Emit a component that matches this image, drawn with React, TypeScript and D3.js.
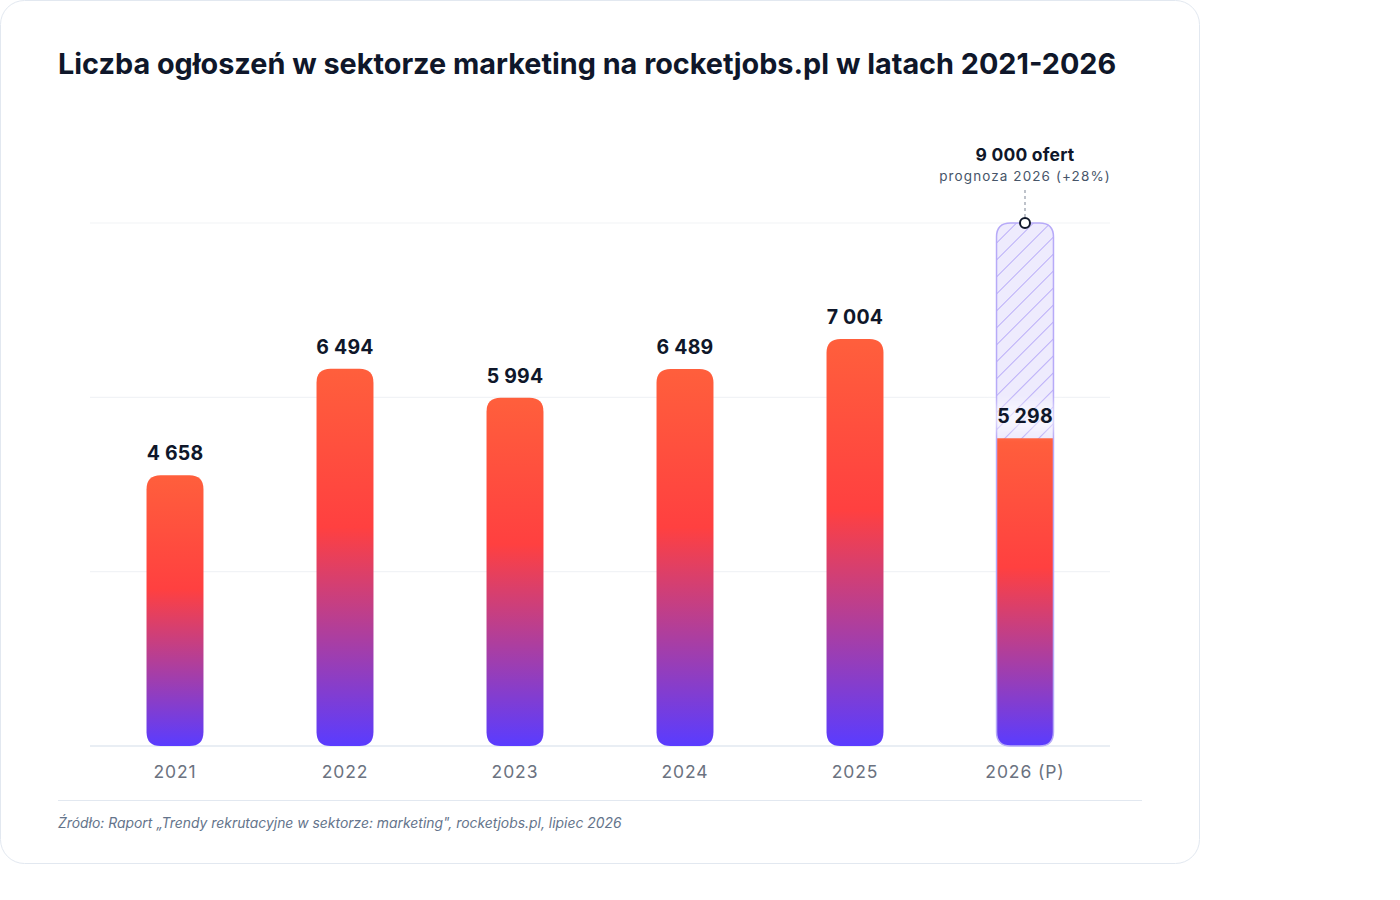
import React from 'react';
import * as d3 from 'd3';

const years = ['2021', '2022', '2023', '2024', '2025', '2026 (P)'];
const values = [4658, 6494, 5994, 6489, 7004, 5298];
const forecastValue = 9000;
const gridTicks = [3000, 6000, 9000];

const title = 'Liczba ogłoszeń w sektorze marketing na rocketjobs.pl w latach 2021-2026';
const forecastTitle = '9 000 ofert';
const forecastNote = 'prognoza 2026 (+28%)';
const sourceText = 'Źródło: Raport „Trendy rekrutacyjne w sektorze: marketing", rocketjobs.pl, lipiec 2026';

const FONT = 'Inter, "Noto Sans", sans-serif';
const fmt = d3.formatLocale({ decimal: ',', thousands: ' ', grouping: [3], currency: ['', ' zł'] }).format(',d');

// path for rect with rounded top and/or bottom corners
function barPath(x: number, y: number, w: number, h: number, r: number, top: boolean, bottom: boolean) {
    const rt = top ? r : 0;
    const rb = bottom ? r : 0;
    return [
        `M${x},${y + rt}`,
        rt ? `Q${x},${y} ${x + rt},${y}` : '',
        `L${x + w - rt},${y}`,
        rt ? `Q${x + w},${y} ${x + w},${y + rt}` : '',
        `L${x + w},${y + h - rb}`,
        rb ? `Q${x + w},${y + h} ${x + w - rb},${y + h}` : '',
        `L${x + rb},${y + h}`,
        rb ? `Q${x},${y + h} ${x},${y + h - rb}` : '',
        'Z',
    ].join(' ');
}

export default function App() {
    const width = 1400;
    const height = 900;
    const plot = { left: 90, right: 1110, top: 223, bottom: 746 };

    const x = d3.scaleBand<string>().domain(years).range([plot.left, plot.right]).padding(0);
    const y = d3.scaleLinear().domain([0, forecastValue]).range([plot.bottom, plot.top]);
    const barW = x.bandwidth() * 0.335;
    const r = 14;

    const last = years.length - 1;
    const fx = x(years[last])! + x.bandwidth() / 2;

    return (
        <div style={{ position: 'absolute', left: 0, top: 0 }}>
            <svg width={width} height={height} style={{ display: 'block', fontFamily: FONT }}>
                <defs>
                    <linearGradient id="barGrad" x1="0" y1="0" x2="0" y2="1">
                        <stop offset="0%" stopColor="#ff5f3c" />
                        <stop offset="42%" stopColor="#ff4040" />
                        <stop offset="100%" stopColor="#5a3cff" />
                    </linearGradient>
                    <pattern id="hatch" width="12" height="12" patternUnits="userSpaceOnUse" patternTransform="rotate(45)">
                        <line x1="0" y1="0" x2="0" y2="12" stroke="#9d8bf6" strokeWidth="1.3" />
                    </pattern>
                    <filter id="glow" x="-50%" y="-50%" width="200%" height="200%">
                        <feGaussianBlur stdDeviation="6" />
                    </filter>
                </defs>

                {/* card */}
                <rect x={0.5} y={0.5} width={1199} height={863} rx={24} fill="#ffffff" stroke="#e2e8f0" />

                <text x={58} y={74} fontSize={28.8} fontWeight={700} fill="#0f172a">{title}</text>

                {/* grid */}
                {gridTicks.map(t => (
                    <line key={t} x1={plot.left} x2={plot.right} y1={y(t)} y2={y(t)} stroke="#f1f3f6" strokeWidth={1.2} />
                ))}
                <line x1={plot.left} x2={plot.right} y1={y(0)} y2={y(0)} stroke="#e2e8f0" strokeWidth={1.5} />

                {/* forecast hatched bar */}
                <path d={barPath(fx - barW / 2, y(forecastValue), barW, y(0) - y(forecastValue), r, true, true)} fill="#eeebfd" />
                <path d={barPath(fx - barW / 2, y(forecastValue), barW, y(0) - y(forecastValue), r, true, true)} fill="url(#hatch)" />

                {/* bars */}
                {values.map((v, i) => {
                    const cx = x(years[i])! + x.bandwidth() / 2;
                    return (
                        <path key={years[i]}
                            d={barPath(cx - barW / 2, y(v), barW, y(0) - y(v), r, i !== last, true)}
                            fill="url(#barGrad)" />
                    );
                })}

                <path d={barPath(fx - barW / 2, y(forecastValue), barW, y(0) - y(forecastValue), r, true, true)}
                    fill="none" stroke="#b7aaf8" strokeWidth={1.5} />

                {/* value labels */}
                {values.map((v, i) => {
                    const cx = x(years[i])! + x.bandwidth() / 2;
                    return (
                        <g key={'l' + years[i]}>
                            {i === last && (
                                <rect x={cx - 36} y={y(v) - 34} width={72} height={26} fill="#ffffff" opacity={0.55} filter="url(#glow)" />
                            )}
                            <text x={cx} y={y(v) - 15} textAnchor="middle" fontSize={19.5} fontWeight={700} fill="#0f172a" letterSpacing={0.2}>{fmt(v)}</text>
                        </g>
                    );
                })}

                {/* forecast annotation */}
                <line x1={fx} x2={fx} y1={190} y2={y(forecastValue) - 5} stroke="#9ca3af" strokeWidth={1.3} strokeDasharray="3,3" />
                <circle cx={fx} cy={y(forecastValue)} r={5} fill="#ffffff" stroke="#0f172a" strokeWidth={2} />
                <text x={fx} y={161} textAnchor="middle" fontSize={17.5} fontWeight={700} fill="#0f172a" letterSpacing={0.2}>{forecastTitle}</text>
                <text x={fx} y={181} textAnchor="middle" fontSize={13.5} fill="#475569" letterSpacing={1.1}>{forecastNote}</text>

                {/* x axis labels */}
                {years.map(yr => (
                    <text key={'x' + yr} x={x(yr)! + x.bandwidth() / 2} y={778} textAnchor="middle" fontSize={17.5} fill="#6b7280" letterSpacing={0.9}>{yr}</text>
                ))}

                <line x1={58} x2={1142} y1={800.5} y2={800.5} stroke="#e2e8f0" strokeWidth={1.2} />
                <text x={58} y={828} fontSize={13.9} fontStyle="italic" fill="#64748b">{sourceText}</text>
            </svg>
        </div>
    );
}
